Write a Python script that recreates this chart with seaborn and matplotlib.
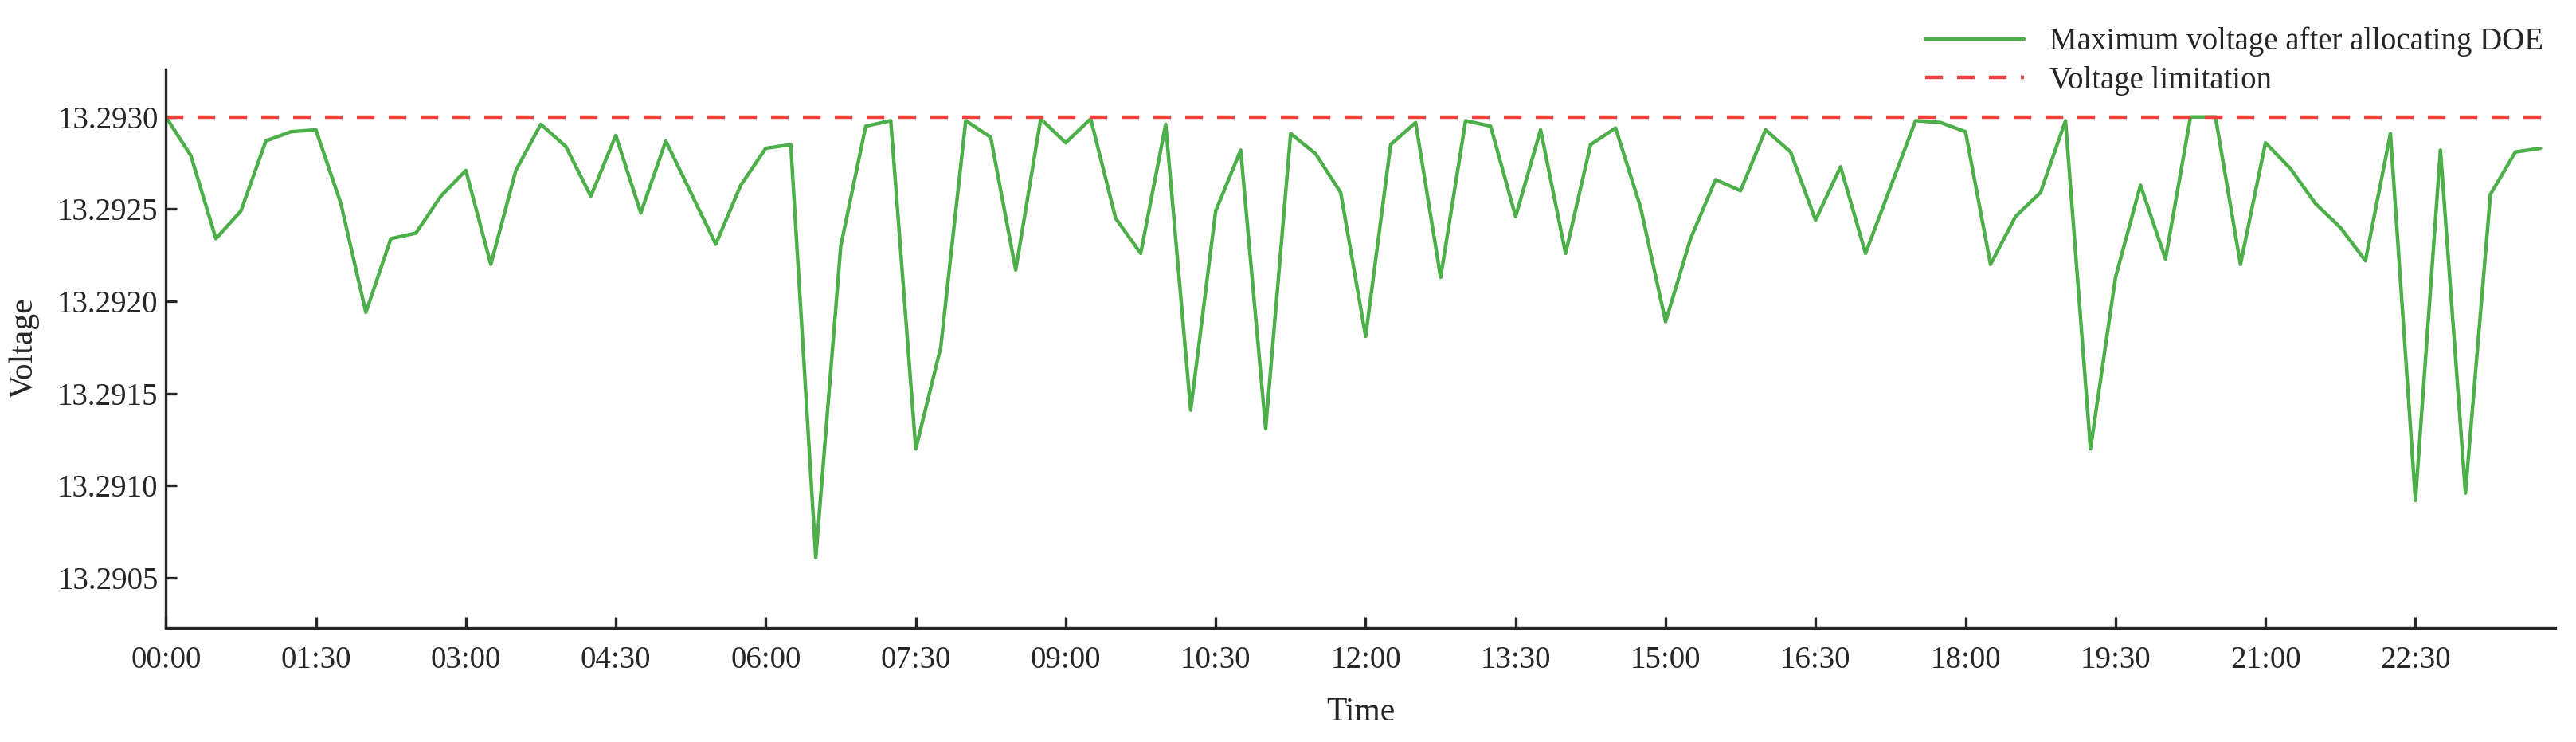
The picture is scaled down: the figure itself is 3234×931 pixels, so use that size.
import numpy as np
import pandas as pd
import matplotlib
matplotlib.use('Agg')
import matplotlib.pyplot as plt
import seaborn as sns

# Maximum voltage per 15-min slot (96 slots)
voltage = [
    13.29300, 13.29279, 13.29234, 13.29249, 13.29287, 13.29292, 13.29293, 13.29253,
    13.29194, 13.29234, 13.29237, 13.29257, 13.29271, 13.29220, 13.29271, 13.29296,
    13.29284, 13.29257, 13.29290, 13.29248, 13.29287, 13.29259, 13.29231, 13.29263,
    13.29283, 13.29285, 13.29061, 13.29230, 13.29295, 13.29298, 13.29120, 13.29175,
    13.29298, 13.29289, 13.29217, 13.29299, 13.29286, 13.29299, 13.29245, 13.29226,
    13.29296, 13.29141, 13.29249, 13.29282, 13.29131, 13.29291, 13.29280, 13.29259,
    13.29181, 13.29285, 13.29297, 13.29213, 13.29298, 13.29295, 13.29246, 13.29293,
    13.29226, 13.29285, 13.29294, 13.29251, 13.29189, 13.29234, 13.29266, 13.29260,
    13.29293, 13.29281, 13.29244, 13.29273, 13.29226, 13.29262, 13.29298, 13.29297,
    13.29292, 13.29220, 13.29246, 13.29259, 13.29298, 13.29120, 13.29213, 13.29263,
    13.29223, 13.29300, 13.29300, 13.29220, 13.29286, 13.29272, 13.29253, 13.29240,
    13.29222, 13.29291, 13.29092, 13.29282, 13.29096, 13.29258, 13.29281, 13.29283,
]
limit = 13.2930
time_labels = ['%02d:%02d' % (m // 60, m % 60) for m in range(0, 24 * 60, 15)]

df = pd.DataFrame({'slot': np.arange(len(voltage)), 'voltage': voltage})

sns.set_style('ticks')
plt.rcParams['font.family'] = ['Liberation Serif', 'DejaVu Serif']

fig, ax = plt.subplots(figsize=(16.17, 4.655), dpi=200)
fig.subplots_adjust(left=0.0644, right=0.992, top=0.907, bottom=0.154)

sns.lineplot(data=df, x='slot', y='voltage', ax=ax, color='#4DAF4A', linewidth=1.6,
             label='Maximum voltage after allocating DOE')
ax.axhline(limit, color='#F04040', linestyle=(0, (5, 4)), linewidth=1.6, label='Voltage limitation')

ax.set_xlim(0, 95.6)
ax.set_ylim(13.29023, 13.29326)
ax.set_yticks([13.2905, 13.2910, 13.2915, 13.2920, 13.2925, 13.2930])
ax.yaxis.set_major_formatter(matplotlib.ticker.FormatStrFormatter('%.4f'))
ticks = list(range(0, 96, 6))
ax.set_xticks(ticks)
ax.set_xticklabels([time_labels[i] for i in ticks])
ax.tick_params(direction='in', labelsize=14, width=1.2, length=5)
ax.tick_params(axis='x', pad=8)
ax.set_xlabel('Time', fontsize=15, labelpad=10)
ax.set_ylabel('Voltage', fontsize=15, labelpad=8)
sns.despine(ax=ax)
for s in ['left', 'bottom']:
    ax.spines[s].set_linewidth(1.2)

ax.legend(loc='lower right', bbox_to_anchor=(1.0, 0.93), frameon=False, fontsize=14,
          handlelength=3.2, borderaxespad=0, labelspacing=0.3)

fig.savefig('out.png', dpi=200)
